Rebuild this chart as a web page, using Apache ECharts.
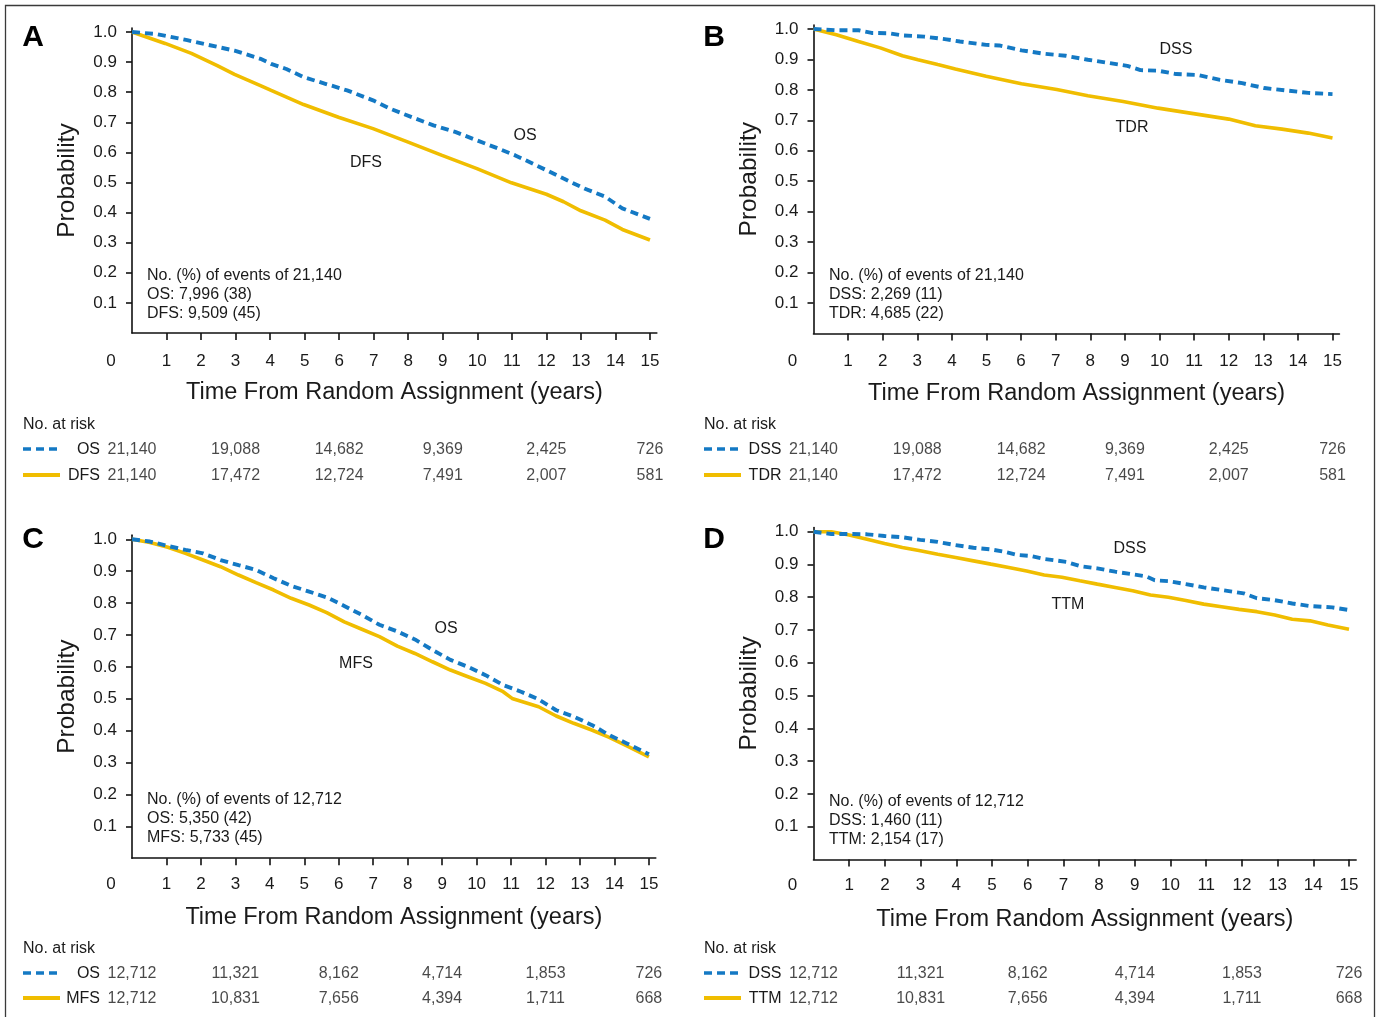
<!DOCTYPE html>
<html><head><meta charset="utf-8">
<script src="https://cdn.jsdelivr.net/npm/echarts@6/dist/echarts.min.js"></script>
<style>html,body{margin:0;padding:0;background:#fff}#c{width:1382px;height:1017px}</style>
</head><body><div id="c"></div>
<script>
// ---------- shared tick labels ----------
const xTickValues = [0,1,2,3,4,5,6,7,8,9,10,11,12,13,14,15];
const yTickValues = [0.1,0.2,0.3,0.4,0.5,0.6,0.7,0.8,0.9,1.0];
const riskTimes = [0,3,6,9,12,15];

// ---------- Panel A ----------
const osA = [[0,1.0],[0.72,0.993],[1.6,0.973],[2.1,0.960],[2.97,0.938],[3.72,0.911],[4.03,0.894],[4.47,0.877],[4.97,0.850],[5.6,0.828],[6.23,0.806],[6.98,0.773],[7.48,0.745],[8.1,0.717],[8.73,0.690],[9.36,0.668],[9.99,0.640],[10.6,0.613],[11.1,0.590],[11.6,0.563],[12.0,0.541],[12.5,0.513],[13.1,0.480],[13.7,0.453],[14.2,0.414],[15.0,0.379]];
const dfsA = [[0,1.0],[0.96,0.962],[1.72,0.929],[2.47,0.888],[2.97,0.859],[3.72,0.822],[4.03,0.806],[4.97,0.759],[5.98,0.717],[6.98,0.679],[7.98,0.635],[8.98,0.590],[9.99,0.546],[10.99,0.499],[12.0,0.461],[12.5,0.436],[13.0,0.406],[13.7,0.375],[14.2,0.344],[15.0,0.309]];
const riskA_OS = [21140,19088,14682,9369,2425,726];
const riskA_DFS = [21140,17472,12724,7491,2007,581];

// ---------- Panel B ----------
const dssB = [[0,1.0],[0.66,0.996],[1.3,0.996],[1.68,0.987],[2.19,0.986],[2.57,0.979],[3.2,0.975],[3.84,0.966],[4.23,0.959],[4.99,0.948],[5.37,0.946],[6.01,0.930],[6.65,0.919],[7.29,0.912],[7.93,0.899],[8.57,0.888],[9.07,0.879],[9.45,0.865],[9.96,0.863],[10.48,0.852],[11.1,0.849],[11.75,0.833],[12.39,0.822],[13.03,0.806],[13.67,0.798],[14.3,0.790],[15.0,0.786]];
const tdrB = [[0,1.0],[0.66,0.981],[1.3,0.959],[1.93,0.938],[2.57,0.912],[3.02,0.899],[3.59,0.883],[4.1,0.869],[4.99,0.845],[6.01,0.820],[7.03,0.801],[7.93,0.781],[8.95,0.762],[9.96,0.740],[10.98,0.722],[12.0,0.704],[12.77,0.682],[13.54,0.671],[14.3,0.658],[15.0,0.642]];
const riskB_DSS = [21140,19088,14682,9369,2425,726];
const riskB_TDR = [21140,17472,12724,7491,2007,581];

// ---------- Panel C ----------
const osC = [[0,1.0],[0.52,0.993],[1.04,0.979],[1.55,0.967],[2.06,0.956],[2.57,0.935],[3.09,0.919],[3.6,0.904],[4.11,0.878],[4.62,0.854],[5.14,0.836],[5.65,0.818],[6.16,0.791],[6.67,0.763],[7.18,0.732],[7.7,0.711],[8.21,0.686],[8.72,0.653],[9.24,0.622],[9.75,0.600],[10.26,0.574],[10.77,0.543],[11.29,0.522],[11.8,0.498],[12.31,0.464],[12.82,0.444],[13.34,0.418],[13.85,0.386],[14.36,0.360],[15.0,0.326]];
const mfsC = [[0,1.0],[0.52,0.990],[1.04,0.975],[1.55,0.956],[2.06,0.935],[2.57,0.914],[3.09,0.888],[3.6,0.864],[4.11,0.841],[4.62,0.815],[5.14,0.794],[5.65,0.770],[6.16,0.741],[6.67,0.718],[7.18,0.695],[7.7,0.665],[8.21,0.642],[8.72,0.616],[9.24,0.590],[9.75,0.569],[10.26,0.548],[10.77,0.522],[11.03,0.501],[11.8,0.475],[12.31,0.446],[12.82,0.423],[13.34,0.402],[13.85,0.379],[14.36,0.352],[15.0,0.318]];
const riskC_OS = [12712,11321,8162,4714,1853,726];
const riskC_MFS = [12712,10831,7656,4394,1711,668];

// ---------- Panel D ----------
const dssD = [[0,1.0],[0.5,0.993],[1.0,0.993],[1.5,0.992],[1.99,0.987],[2.49,0.983],[2.99,0.975],[3.48,0.969],[3.98,0.959],[4.48,0.951],[4.97,0.946],[5.34,0.939],[5.72,0.929],[6.09,0.926],[6.46,0.917],[7.08,0.908],[7.46,0.895],[7.95,0.888],[8.45,0.878],[8.94,0.870],[9.31,0.864],[9.56,0.852],[9.94,0.849],[10.43,0.840],[10.93,0.830],[11.43,0.822],[12.05,0.812],[12.42,0.797],[12.92,0.791],[13.41,0.781],[13.91,0.773],[14.53,0.769],[15.0,0.761]];
const ttmD = [[0,1.0],[0.5,1.0],[1.0,0.990],[1.5,0.977],[1.99,0.964],[2.49,0.952],[2.99,0.942],[3.48,0.931],[3.98,0.921],[4.48,0.911],[4.97,0.901],[5.47,0.891],[5.97,0.880],[6.46,0.868],[6.96,0.861],[7.46,0.850],[7.95,0.840],[8.45,0.830],[8.94,0.820],[9.44,0.807],[9.94,0.800],[10.43,0.790],[10.93,0.779],[11.43,0.771],[11.92,0.763],[12.42,0.756],[12.92,0.746],[13.41,0.733],[13.91,0.728],[14.41,0.715],[15.0,0.702]];
const riskD_DSS = [12712,11321,8162,4714,1853,726];
const riskD_TTM = [12712,10831,7656,4394,1711,668];

// ---------- layout (pixels) ----------
const BLUE = '#1479c4', GOLD = '#f0bd00', TXT = '#1a1a1a';
const FONT = '"Liberation Sans", Arial, Helvetica, sans-serif';
const X_MAX = 15.2, Y_MAX = 1.013;

const panels = [
  { letter:'A', x0:132, ppy:34.53, y1:32, y0:333, labelGap:20, nameGap:48, tblTop:437, tblH:52, nrY:425, swX:23,
    blue:{name:'OS', data:osA, risk:riskA_OS}, gold:{name:'DFS', data:dfsA, risk:riskA_DFS},
    note:'No. (%) of events of 21,140\nOS: 7,996 (38)\nDFS: 9,509 (45)', noteX:147, noteY:266.5,
    lblBlue:[525,136], lblGold:[366,163], letterXY:[33,38] },
  { letter:'B', x0:813.5, ppy:34.6, y1:29, y0:333.4, labelGap:19.5, nameGap:48, tblTop:437, tblH:52, nrY:425, swX:704,
    blue:{name:'DSS', data:dssB, risk:riskB_DSS}, gold:{name:'TDR', data:tdrB, risk:riskB_TDR},
    note:'No. (%) of events of 21,140\nDSS: 2,269 (11)\nTDR: 4,685 (22)', noteX:829, noteY:266.5,
    lblBlue:[1176,50], lblGold:[1132,128], letterXY:[714,38] },
  { letter:'C', x0:132, ppy:34.46, y1:539.3, y0:858.2, labelGap:17.5, nameGap:47.5, tblTop:961.5, tblH:50, nrY:949, swX:23,
    blue:{name:'OS', data:osC, risk:riskC_OS}, gold:{name:'MFS', data:mfsC, risk:riskC_MFS},
    note:'No. (%) of events of 12,712\nOS: 5,350 (42)\nMFS: 5,733 (45)', noteX:147, noteY:790.5,
    lblBlue:[446,629], lblGold:[356,664], letterXY:[33,540] },
  { letter:'D', x0:813.5, ppy:35.7, y1:531.7, y0:859.4, labelGap:17.5, nameGap:48, tblTop:961.5, tblH:50, nrY:949, swX:704,
    blue:{name:'DSS', data:dssD, risk:riskD_DSS}, gold:{name:'TTM', data:ttmD, risk:riskD_TTM},
    note:'No. (%) of events of 12,712\nDSS: 1,460 (11)\nTTM: 2,154 (17)', noteX:829, noteY:792.5,
    lblBlue:[1130,549], lblGold:[1068,605], letterXY:[714,540] }
];

const fmt = v => v.toLocaleString('en-US');
const grid = [], xAxis = [], yAxis = [], series = [], graphic = [];

graphic.push({ type:'rect', shape:{x:5.5, y:5.5, width:1369, height:1100}, style:{fill:'none', stroke:'#3a3a3a', lineWidth:1.3}, silent:true });

panels.forEach((p, i) => {
  const unit = p.y0 - p.y1;
  const gTop = p.y0 - Y_MAX * unit;
  grid.push({ left:p.x0, top:gTop, width:X_MAX*p.ppy, height:Y_MAX*unit });
  grid.push({ left:p.x0, top:p.tblTop, width:X_MAX*p.ppy, height:p.tblH });
  const gi = i*2;
  xAxis.push({
    type:'value', gridIndex:gi, min:0, max:X_MAX,
    axisLine:{ show:true, onZero:false, lineStyle:{color:'#111', width:1.6} },
    axisTick:{ show:true, length:7, lineStyle:{color:'#111', width:1.6}, customValues:xTickValues.slice(1) },
    axisLabel:{ show:true, customValues:xTickValues, margin:p.labelGap, fontSize:17, color:TXT, fontFamily:FONT,
      formatter: v => v === 0 ? '{z|0}' : String(v),
      rich:{ z:{ fontSize:17, color:TXT, fontFamily:FONT, padding:[0,42,0,0] } } },
    splitLine:{show:false},
    name:'Time From Random Assignment (years)', nameLocation:'middle', nameGap:p.nameGap,
    nameTextStyle:{ fontSize:23.5, color:TXT, fontFamily:FONT }
  });
  yAxis.push({
    type:'value', gridIndex:gi, min:0, max:Y_MAX,
    axisLine:{ show:true, onZero:false, lineStyle:{color:'#111', width:1.6} },
    axisTick:{ show:true, length:6, lineStyle:{color:'#111', width:1.6}, customValues:yTickValues },
    axisLabel:{ show:true, customValues:yTickValues, margin:15, fontSize:17, color:TXT, fontFamily:FONT,
      formatter: v => v.toFixed(1) },
    splitLine:{show:false},
    name:'Probability', nameLocation:'middle', nameGap:52, nameRotate:90,
    nameTextStyle:{ fontSize:24.5, color:TXT, fontFamily:FONT }
  });
  // table axes
  xAxis.push({ type:'value', gridIndex:gi+1, min:0, max:X_MAX, show:false });
  yAxis.push({ type:'category', gridIndex:gi+1, inverse:true, data:[p.blue.name, p.gold.name],
    axisLine:{show:false}, axisTick:{show:false}, splitLine:{show:false},
    axisLabel:{ margin:32, fontSize:16, color:TXT, fontFamily:FONT } });

  // curves
  series.push({ type:'line', xAxisIndex:gi, yAxisIndex:gi, data:p.gold.data, showSymbol:false, symbol:'none',
    lineStyle:{ color:GOLD, width:3.6 }, z:2, silent:true, animation:false });
  series.push({ type:'line', xAxisIndex:gi, yAxisIndex:gi, data:p.blue.data, showSymbol:false, symbol:'none',
    lineStyle:{ color:BLUE, width:3.9, type:[8,5] }, z:3, silent:true, animation:false });

  // at-risk rows
  [p.blue, p.gold].forEach(s => {
    series.push({ type:'scatter', xAxisIndex:gi+1, yAxisIndex:gi+1, symbolSize:1,
      itemStyle:{ color:'rgba(0,0,0,0)' }, silent:true, animation:false,
      data: riskTimes.map((t,k) => [t, s.name, s.risk[k]]),
      label:{ show:true, position:'inside', fontSize:16, color:TXT, fontFamily:FONT,
        formatter: q => fmt(q.value[2]) } });
  });

  // texts & swatches
  graphic.push({ type:'text', x:p.letterXY[0], y:p.letterXY[1], style:{ text:p.letter, font:'bold 30px '+FONT, fill:'#000', align:'center', verticalAlign:'middle' } });
  graphic.push({ type:'text', x:p.noteX, y:p.noteY, style:{ text:p.note, fontSize:16, fontFamily:FONT, fill:TXT, lineHeight:19, align:'left', verticalAlign:'top' } });
  graphic.push({ type:'text', x:p.lblBlue[0], y:p.lblBlue[1], style:{ text:p.blue.name, fontSize:16, fontFamily:FONT, fill:TXT, align:'center', verticalAlign:'middle' } });
  graphic.push({ type:'text', x:p.lblGold[0], y:p.lblGold[1], style:{ text:p.gold.name, fontSize:16, fontFamily:FONT, fill:TXT, align:'center', verticalAlign:'middle' } });
  graphic.push({ type:'text', x:p.swX, y:p.nrY, style:{ text:'No. at risk', fontSize:16, fontFamily:FONT, fill:TXT, align:'left', verticalAlign:'middle' } });
  const r1 = p.tblTop + p.tblH/4 - 1, r2 = p.tblTop + 3*p.tblH/4 - 1;
  graphic.push({ type:'line', shape:{x1:p.swX, y1:r1, x2:p.swX+35, y2:r1}, style:{ stroke:BLUE, lineWidth:3.5, lineDash:[8,5] } });
  graphic.push({ type:'line', shape:{x1:p.swX, y1:r2, x2:p.swX+37, y2:r2}, style:{ stroke:GOLD, lineWidth:4 } });
});

const chart = echarts.init(document.getElementById('c'), null, { renderer:'canvas' });
chart.setOption({ animation:false, backgroundColor:'#fff', grid, xAxis, yAxis, series, graphic });
</script></body></html>
